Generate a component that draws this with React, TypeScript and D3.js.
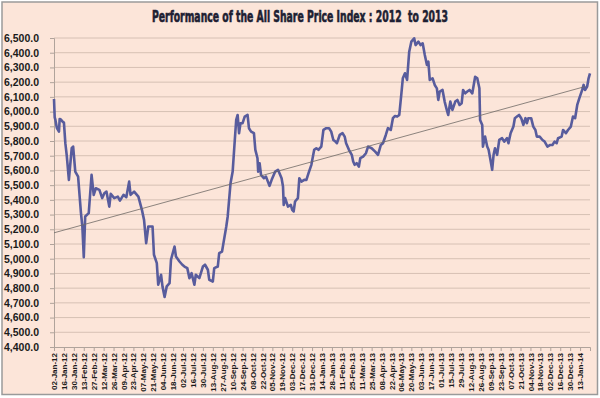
import React, { useEffect, useRef } from 'react';
import * as d3 from 'd3';

const title = 'Performance of the All Share Price Index : 2012  to 2013';

// trading dates
const dates = [
  '2012-01-02', '2012-01-03', '2012-01-04', '2012-01-06', '2012-01-09', '2012-01-10', '2012-01-12', '2012-01-14',
  '2012-01-16', '2012-01-18', '2012-01-20', '2012-01-23', '2012-01-27', '2012-01-29', '2012-02-01', '2012-02-05',
  '2012-02-09', '2012-02-11', '2012-02-13', '2012-02-15', '2012-02-20', '2012-02-24', '2012-02-27', '2012-03-01',
  '2012-03-06', '2012-03-10', '2012-03-13', '2012-03-16', '2012-03-20', '2012-03-22', '2012-03-27', '2012-04-01',
  '2012-04-04', '2012-04-09', '2012-04-13', '2012-04-17', '2012-04-19', '2012-04-24', '2012-04-30', '2012-05-05',
  '2012-05-08', '2012-05-11', '2012-05-14', '2012-05-20', '2012-05-22', '2012-05-26', '2012-05-28', '2012-06-01',
  '2012-06-03', '2012-06-06', '2012-06-09', '2012-06-13', '2012-06-15', '2012-06-20', '2012-06-22', '2012-06-27',
  '2012-07-01', '2012-07-04', '2012-07-08', '2012-07-11', '2012-07-14', '2012-07-18', '2012-07-20', '2012-07-25',
  '2012-07-30', '2012-08-02', '2012-08-06', '2012-08-08', '2012-08-13', '2012-08-15', '2012-08-20', '2012-08-22',
  '2012-08-26', '2012-08-28', '2012-09-01', '2012-09-03', '2012-09-07', '2012-09-10', '2012-09-13', '2012-09-15',
  '2012-09-17', '2012-09-19', '2012-09-21', '2012-09-24', '2012-09-27', '2012-10-01', '2012-10-03', '2012-10-06',
  '2012-10-10', '2012-10-12', '2012-10-15', '2012-10-16', '2012-10-18', '2012-10-20', '2012-10-24', '2012-10-27',
  '2012-11-01', '2012-11-04', '2012-11-09', '2012-11-13', '2012-11-18', '2012-11-20', '2012-11-21', '2012-11-23',
  '2012-11-27', '2012-12-01', '2012-12-03', '2012-12-05', '2012-12-07', '2012-12-11', '2012-12-13', '2012-12-16',
  '2012-12-20', '2012-12-23', '2012-12-26', '2012-12-30',
  '2013-01-03', '2013-01-06', '2013-01-09', '2013-01-11', '2013-01-13', '2013-01-16', '2013-01-20', '2013-01-24',
  '2013-01-27', '2013-01-30', '2013-02-02', '2013-02-04', '2013-02-08', '2013-02-12', '2013-02-15', '2013-02-17',
  '2013-02-21', '2013-02-25', '2013-02-27', '2013-03-01', '2013-03-04', '2013-03-07', '2013-03-09', '2013-03-13',
  '2013-03-17', '2013-03-20', '2013-03-25', '2013-03-30', '2013-04-03', '2013-04-07', '2013-04-10', '2013-04-14',
  '2013-04-17', '2013-04-21', '2013-04-24', '2013-04-27', '2013-04-30', '2013-05-03', '2013-05-06', '2013-05-08',
  '2013-05-11', '2013-05-14', '2013-05-17', '2013-05-20', '2013-05-24', '2013-05-26', '2013-05-30', '2013-06-02',
  '2013-06-05', '2013-06-08', '2013-06-11', '2013-06-13', '2013-06-15', '2013-06-19', '2013-06-22', '2013-06-25',
  '2013-06-27', '2013-06-29', '2013-07-03', '2013-07-06', '2013-07-09', '2013-07-11', '2013-07-14', '2013-07-17',
  '2013-07-21', '2013-07-24', '2013-07-27', '2013-07-30', '2013-08-01', '2013-08-04', '2013-08-07', '2013-08-10',
  '2013-08-14', '2013-08-18', '2013-08-21', '2013-08-24', '2013-08-25', '2013-08-28', '2013-08-29', '2013-09-01',
  '2013-09-04', '2013-09-06', '2013-09-09', '2013-09-11', '2013-09-13', '2013-09-15', '2013-09-18', '2013-09-21',
  '2013-09-25', '2013-09-28', '2013-10-02', '2013-10-04', '2013-10-07', '2013-10-11', '2013-10-13', '2013-10-16',
  '2013-10-19', '2013-10-22', '2013-10-25', '2013-10-28', '2013-10-30', '2013-11-01', '2013-11-05', '2013-11-08',
  '2013-11-11', '2013-11-13', '2013-11-17', '2013-11-21', '2013-11-24', '2013-11-28', '2013-12-02', '2013-12-05',
  '2013-12-08', '2013-12-11', '2013-12-13', '2013-12-18', '2013-12-20', '2013-12-24', '2013-12-27', '2013-12-31',
  '2014-01-03', '2014-01-06', '2014-01-09', '2014-01-12', '2014-01-16', '2014-01-18', '2014-01-20', '2014-01-23',
  '2014-01-25', '2014-01-27',
];

// index closes, same order as dates
const closes = [
  6085, 5960, 5943, 5890, 5864, 5950, 5945, 5932,
  5925, 5785, 5700, 5536, 5751, 5762, 5592, 5558,
  5311, 5219, 5010, 5287, 5310, 5570, 5434, 5479,
  5468, 5412, 5445, 5456, 5354, 5441, 5412, 5422,
  5395, 5434, 5418, 5524, 5434, 5456, 5422, 5332,
  5264, 5106, 5219, 5219, 5027, 4970, 4823, 4891,
  4812, 4740, 4812, 4834, 4993, 5083, 5015, 4981,
  4959, 4947, 4936, 4868, 4902, 4823, 4891, 4868,
  4947, 4959, 4925, 4857, 4845, 4936, 4947, 5038,
  5049, 5106, 5219, 5287, 5513, 5592, 5807, 5943,
  5977, 5853, 5921, 5921, 5966, 5977, 5887, 5864,
  5853, 5740, 5683, 5592, 5649, 5570, 5547, 5558,
  5495, 5536, 5592, 5604, 5547, 5491, 5366, 5412,
  5354, 5366, 5332, 5321, 5389, 5412, 5547, 5524,
  5536, 5536, 5581, 5638,
  5740, 5751, 5740, 5751, 5762, 5875, 5887, 5887,
  5864, 5807, 5796, 5785, 5841, 5853, 5830, 5785,
  5740, 5706, 5660, 5638, 5649, 5626, 5683, 5694,
  5717, 5762, 5751, 5728, 5706, 5773, 5785, 5841,
  5887, 5875, 5955, 5970, 5966, 5977, 6124, 6226,
  6260, 6215, 6407, 6475, 6498, 6452, 6475, 6452,
  6464, 6385, 6317, 6339, 6215, 6226, 6181, 6158,
  6079, 6136, 6147, 6068, 6011, 5977, 6068, 6011,
  6068, 6079, 6045, 6057, 6147, 6124, 6136, 6147,
  6124, 6237, 6226, 6158, 5943, 5909, 5762, 5830,
  5762, 5740, 5660, 5604, 5706, 5751, 5706, 5807,
  5819, 5796, 5819, 5785, 5853, 5898, 5955, 5966,
  5977, 5955, 5909, 5955, 5921, 5955, 5955, 5898,
  5875, 5830, 5830, 5807, 5796, 5762, 5773, 5773,
  5796, 5785, 5819, 5830, 5875, 5853, 5875, 5898,
  5966, 5955, 6045, 6091, 6147, 6181, 6147, 6170,
  6226, 6260,
];

// linear trendline end values
const trendValues = [5176, 6170];

// axis setup
const firstTick = '2012-01-02';
const tickCount = 54; // one every 14 days
const yMin = 4400;
const yMax = 6500;
const yStep = 100;

const App = () => {
  const ref = useRef<SVGSVGElement>(null);

  useEffect(() => {
    const width = 600, height = 398;
    const margin = { top: 38, right: 10, bottom: 51, left: 54 };
    const svg = d3.select(ref.current);
    svg.selectAll('*').remove();

    const parse = d3.timeParse('%Y-%m-%d');
    const data = dates.map((d, i) => ({ date: parse(d) as Date, value: closes[i] }));

    // chart background + frame
    svg.append('rect')
      .attr('x', 2).attr('y', 2)
      .attr('width', width - 4.5).attr('height', height - 5.5)
      .attr('fill', '#fce5d9')
      .attr('stroke', '#9a9a9a')
      .attr('stroke-width', 1.5);

    svg.append('text')
      .attr('x', 300).attr('y', 22)
      .attr('text-anchor', 'middle')
      .attr('textLength', 296)
      .attr('lengthAdjust', 'spacingAndGlyphs')
      .style('white-space', 'pre')
      .style('font', 'bold 15.5px "DejaVu Sans Condensed", "Liberation Sans Narrow", sans-serif')
      .attr('fill', '#1e1f33')
      .attr('stroke', '#1e1f33')
      .attr('stroke-width', 0.6)
      .text(title);

    const start = parse(firstTick) as Date;
    const ticksX = d3.range(tickCount).map(i => d3.timeDay.offset(start, i * 14));
    const end = data[data.length - 1].date;

    var x = d3.scaleTime().domain([start, end]).range([margin.left, width - margin.right]);
    var y = d3.scaleLinear().domain([yMin, yMax]).range([height - margin.bottom, margin.top]);

    const g = svg.append('g');

    // horizontal gridlines
    const yTicks = d3.range(yMin, yMax + 1, yStep);
    g.selectAll('.grid')
      .data(yTicks.slice(1))
      .enter().append('line')
      .attr('x1', margin.left).attr('x2', width - margin.right)
      .attr('y1', d => y(d)).attr('y2', d => y(d))
      .attr('stroke', '#d6c0b4')
      .attr('stroke-width', 1);

    // y axis
    g.append('g')
      .attr('transform', 'translate(' + margin.left + ',0)')
      .call(d3.axisLeft(y).tickValues(yTicks).tickSize(4).tickPadding(11).tickFormat(d3.format(',.1f')))
      .call(a => a.selectAll('line, path').attr('stroke', '#b0a39b'))
      .call(a => a.selectAll('text')
        .style('font', 'bold 10.5px "Liberation Sans", Arial, sans-serif')
        .attr('fill', '#1a1a1a'));

    // x axis
    g.append('g')
      .attr('transform', 'translate(0,' + y(yMin) + ')')
      .call(d3.axisBottom(x).tickValues(ticksX).tickSize(4).tickFormat(d3.timeFormat('%d-%b-%y') as any))
      .call(a => a.selectAll('line, path').attr('stroke', '#b0a39b'))
      .call(a => a.selectAll('text')
        .style('font', 'bold 8px "Liberation Sans", Arial, sans-serif')
        .attr('fill', '#1a1a1a')
        .attr('text-anchor', 'end')
        .attr('transform', 'rotate(-90)')
        .attr('x', -6).attr('y', 0).attr('dy', '0.32em'));

    // index line
    const valueline = d3.line<{ date: Date; value: number }>()
      .x(d => x(d.date))
      .y(d => y(d.value));

    g.append('path')
      .datum(data)
      .attr('d', valueline)
      .attr('fill', 'none')
      .attr('stroke', '#585c9d')
      .attr('stroke-width', 2.6)
      .attr('stroke-linejoin', 'round');

    // trendline
    g.append('line')
      .attr('x1', x(start)).attr('y1', y(trendValues[0]))
      .attr('x2', x(d3.timeDay.offset(end, -7))).attr('y2', y(trendValues[1]))
      .attr('stroke', '#6f6a66')
      .attr('stroke-width', 0.8);
  }, []);

  return (
    <svg ref={ref} width={600} height={398}
      style={{ position: 'absolute', left: 0, top: 0, background: '#ffffff' }} />
  );
};

export default App;
